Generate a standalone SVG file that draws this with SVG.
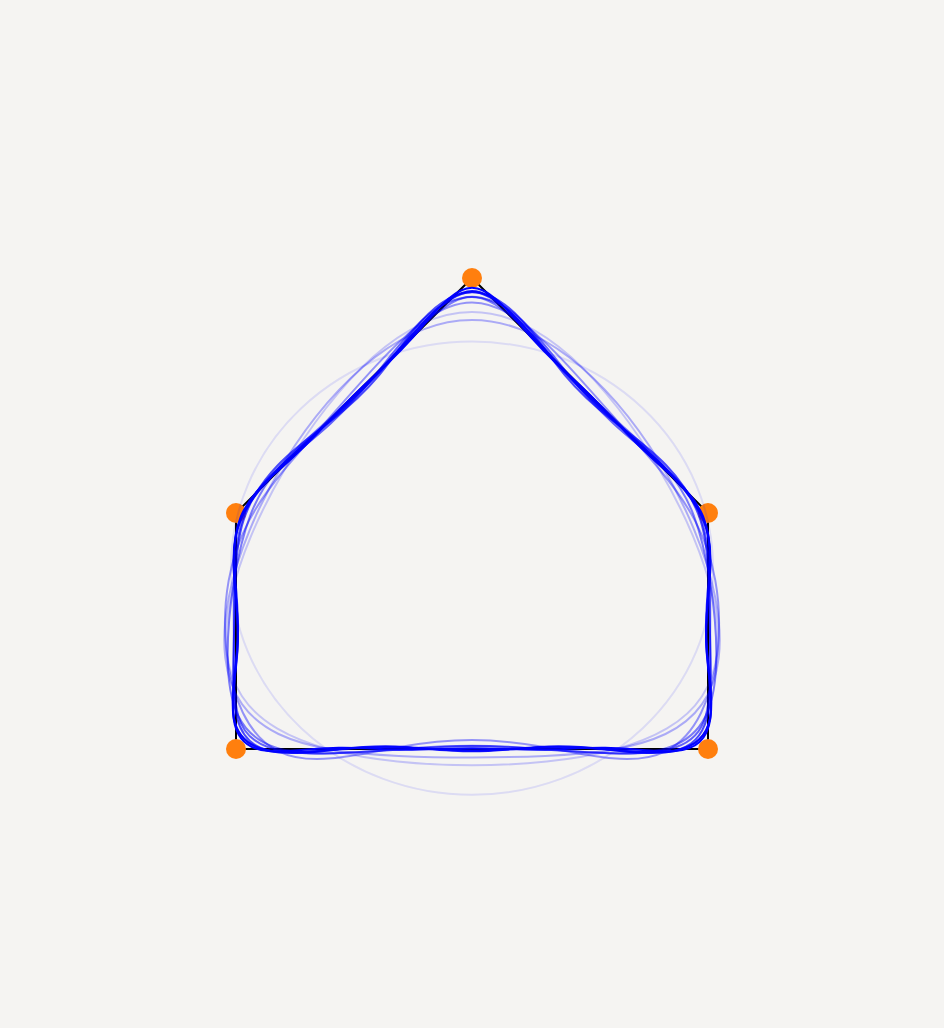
<svg xmlns="http://www.w3.org/2000/svg" xmlns:xlink="http://www.w3.org/1999/xlink" width="944" height="1028" viewBox="0 0 944 1028">
<style>
.bg{fill:#f5f4f2}
.poly{fill:none;stroke:#000000;stroke-width:2}
.pt{fill:#ff7f0e}
.curve{fill:none;stroke:#0000ff;stroke-width:2}
</style>
<defs>
<path id="h2" d="M472,312.1 C488.8,312.1 505.5,316.1 522.1,323.8 C538.7,331.5 555.2,342.9 571.3,357.2 C587.4,371.6 603.0,388.9 617.9,408.0 C632.8,427.1 646.8,448.1 659.5,469.7 C672.2,491.3 683.4,513.4 692.6,535.1 C701.7,556.8 708.8,577.9 713.1,597.7 C717.4,617.5 718.9,635.9 717.1,652.4 C715.4,668.9 710.4,683.6 702.0,696.2 C693.7,708.9 681.9,719.6 667.0,728.4 C652.1,737.2 634.2,744.2 613.8,749.7 C593.4,755.1 570.7,758.9 546.7,761.5 C522.6,764.0 497.3,765.3 472,765.3"/>
<path id="h3" d="M472,320.0 C488.2,320.0 504.4,323.1 520.6,329.4 C536.8,335.6 553.0,345.0 569.1,357.2 C585.1,369.5 601.1,384.8 616.3,402.4 C631.6,420.1 646.3,440.2 659.5,461.8 C672.7,483.4 684.6,506.4 694.1,529.6 C703.7,552.7 711.0,575.9 715.3,597.7 C719.6,619.5 720.8,640.0 718.7,658.0 C716.6,675.9 711.0,691.4 702.0,704.1 C693.1,716.8 680.7,726.6 665.5,734.0 C650.2,741.3 632.0,746.3 611.6,749.7 C591.2,753.0 568.7,754.8 545.1,755.9 C521.5,757.0 496.8,757.4 472,757.4"/>
<path id="h4" d="M472,302.6 C487.8,302.6 503.6,309.2 519.6,320.7 C535.7,332.2 551.9,348.4 568.1,365.9 C584.4,383.5 600.7,402.1 616.3,419.8 C632.0,437.5 647.0,454.2 660.4,470.5 C673.9,486.8 685.7,503.0 695.1,520.9 C704.4,538.8 711.4,558.5 715.3,580.4 C719.2,602.2 720.1,626.1 717.8,649.3 C715.5,672.5 709.9,694.9 701.1,712.8 C692.4,730.7 680.4,743.9 665.5,751.3 C650.5,758.7 632.7,760.2 612.5,758.3 C592.3,756.5 569.8,751.4 546.0,747.3 C522.2,743.1 497.1,740.1 472,740.1"/>
<path id="h5" d="M472,296.8 C485.4,296.8 499.0,305.3 514.4,319.2 C529.8,333.1 547.1,352.1 565.4,370.9 C583.7,389.7 602.9,408.0 620.2,423.9 C637.5,439.8 652.9,453.5 665.1,467.6 C677.4,481.8 686.6,496.8 693.7,515.3 C700.7,533.8 705.9,556.0 709.9,580.4 C713.8,604.7 716.4,631.0 716.4,654.9 C716.3,678.7 713.4,699.9 705.8,715.7 C698.2,731.4 685.9,741.6 669.3,747.2 C652.7,752.8 632.0,753.9 609.8,753.3 C587.6,752.7 564.0,750.5 540.8,748.8 C517.6,747.0 494.8,745.8 472,745.8"/>
<path id="h6" d="M472,296.9 C488.7,296.9 505.3,305.3 520.7,319.2 C536.1,333.1 550.4,352.1 565.4,370.9 C580.4,389.7 596.5,408.0 613.9,423.9 C631.2,439.8 649.6,453.5 665.1,467.7 C680.7,481.8 692.9,496.8 700.0,515.3 C707.0,533.8 709.2,556.0 709.9,580.3 C710.5,604.7 710.1,631.0 710.1,654.9 C710.0,678.8 710.1,700.0 705.8,715.7 C701.5,731.4 692.2,741.7 675.6,747.2 C659.0,752.8 635.3,753.9 609.8,753.3 C584.3,752.7 557.7,750.5 534.5,748.8 C511.3,747.1 491.5,745.9 472,745.9"/>
<path id="h7" d="M472,292.2 C489.5,292.2 506.7,303.7 521.9,320.4 C537.1,337.1 550.5,357.6 564.8,375.0 C579.2,392.3 595.1,406.7 613.0,420.6 C630.9,434.4 650.3,448.7 666.2,465.3 C682.1,481.9 693.9,500.6 700.3,519.8 C706.6,539.1 708.0,558.8 708.6,580.3 C709.2,601.8 709.7,625.7 710.4,650.3 C711.1,675.0 711.6,699.9 706.9,718.1 C702.2,736.3 691.9,747.0 674.7,750.6 C657.6,754.1 634.0,751.3 609.2,749.2 C584.3,747.2 558.7,746.5 535.7,747.5 C512.7,748.6 492.2,750.6 472,750.6"/>
<path id="h8" d="M472,292.0 C486.9,292.0 502.1,303.7 518.6,320.5 C535.2,337.3 552.4,357.8 568.1,375.1 C583.7,392.3 597.7,406.5 613.0,420.4 C628.2,434.2 645.7,448.6 662.9,465.4 C680.2,482.2 695.9,500.8 703.5,520.0 C711.2,539.1 710.6,558.6 708.6,580.1 C706.6,601.6 705.1,625.6 707.1,650.4 C709.2,675.2 713.5,700.1 710.2,718.2 C706.8,736.3 694.5,746.8 674.7,750.4 C654.9,753.9 629.4,751.2 605.9,749.3 C582.3,747.4 560.6,746.7 539.0,747.6 C517.3,748.6 494.9,750.4 472,750.4"/>
<path id="h9" d="M472,291.0 C487.5,291.0 503.1,303.8 519.2,321.2 C535.3,338.5 551.6,358.6 567.3,375.1 C583.0,391.5 597.9,405.3 613.5,419.7 C629.2,434.1 646.3,449.6 662.9,466.4 C679.6,483.1 694.9,500.7 703.0,519.3 C711.1,537.9 711.4,557.9 709.4,580.1 C707.4,602.3 705.0,626.9 706.6,651.1 C708.2,675.3 712.9,699.1 710.2,717.2 C707.4,735.3 695.4,747.0 675.3,751.0 C655.1,755.1 628.7,752.0 605.1,749.3 C581.6,746.6 560.7,745.5 539.5,747.0 C518.2,748.4 495.5,751.3 472,751.3"/>
<path id="h10" d="M472,287.8 C487.6,287.8 503.3,305.2 519.3,323.9 C535.2,342.7 551.4,359.4 567.2,373.5 C582.9,387.6 598.0,402.5 613.7,419.7 C629.4,436.9 646.2,453.6 662.8,468.0 C679.4,482.3 694.9,496.6 703.1,516.5 C711.3,536.5 711.5,561.0 709.4,583.3 C707.2,605.5 704.8,625.5 706.5,648.4 C708.2,671.2 713.2,698.3 710.3,718.8 C707.5,739.3 695.3,749.7 675.1,751.0 C654.9,752.3 628.8,748.0 605.3,747.7 C581.8,747.4 560.8,749.6 539.4,749.7 C518.0,749.8 495.3,748.2 472,748.2"/>
</defs>
<rect class="bg" x="0" y="0" width="944" height="1028"/>
<g id="polygon">
<polygon class="poly" points="472,278 708,513 708,749 236,749 236,513"/>
</g>
<g id="v1"><circle class="pt" cx="472" cy="278" r="10"/></g>
<g id="v2"><circle class="pt" cx="708" cy="513" r="10"/></g>
<g id="v3"><circle class="pt" cx="708" cy="749" r="10"/></g>
<g id="v4"><circle class="pt" cx="236" cy="749" r="10"/></g>
<g id="v5"><circle class="pt" cx="236" cy="513" r="10"/></g>
<g id="connectors">
<g id="n1" class="curve" stroke-opacity="0.1"><ellipse cx="472" cy="568.2" rx="241.1" ry="226.6"/></g>
<g id="n2" class="curve" stroke-opacity="0.2"><use href="#h2"/><use href="#h2" transform="matrix(-1 0 0 1 944 0)"/></g>
<g id="n3" class="curve" stroke-opacity="0.3"><use href="#h3"/><use href="#h3" transform="matrix(-1 0 0 1 944 0)"/></g>
<g id="n4" class="curve" stroke-opacity="0.4"><use href="#h4"/><use href="#h4" transform="matrix(-1 0 0 1 944 0)"/></g>
<g id="n5" class="curve" stroke-opacity="0.5"><use href="#h5"/><use href="#h5" transform="matrix(-1 0 0 1 944 0)"/></g>
<g id="n6" class="curve" stroke-opacity="0.6"><use href="#h6"/><use href="#h6" transform="matrix(-1 0 0 1 944 0)"/></g>
<g id="n7" class="curve" stroke-opacity="0.7"><use href="#h7"/><use href="#h7" transform="matrix(-1 0 0 1 944 0)"/></g>
<g id="n8" class="curve" stroke-opacity="0.8"><use href="#h8"/><use href="#h8" transform="matrix(-1 0 0 1 944 0)"/></g>
<g id="n9" class="curve" stroke-opacity="0.9"><use href="#h9"/><use href="#h9" transform="matrix(-1 0 0 1 944 0)"/></g>
<g id="n10" class="curve" stroke-opacity="1"><use href="#h10"/><use href="#h10" transform="matrix(-1 0 0 1 944 0)"/></g>
</g>
</svg>
